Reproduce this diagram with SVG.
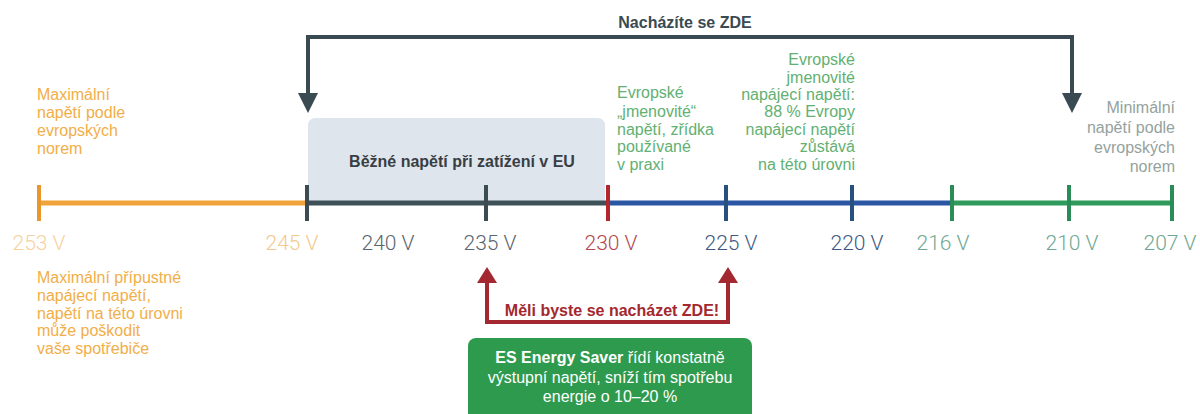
<svg xmlns="http://www.w3.org/2000/svg" width="1200" height="414" viewBox="0 0 1200 414">
<style>
.t{font-family:"Liberation Sans",Arial,sans-serif;font-size:16px}
.b{font-weight:bold}
.lbl{font-family:Roboto,"Liberation Sans",sans-serif;font-weight:300;font-size:21px;text-anchor:middle}
.tick{stroke-width:4;fill:none}
.seg{stroke-width:5;fill:none}
.or{fill:#f2ae48}
.gr{fill:#62b072}
.gy{fill:#94a29d}
</style>
<defs>
<marker id="ah" viewBox="0 0 20 20" markerWidth="20" markerHeight="20" refX="0" refY="10" orient="auto-start-reverse" markerUnits="userSpaceOnUse">
<path d="M0,0 L20,10 L0,20 z" fill="#3a4a52"/>
</marker>
<marker id="ahr" viewBox="0 0 16 20" markerWidth="16" markerHeight="20" refX="0" refY="10" orient="auto-start-reverse" markerUnits="userSpaceOnUse">
<path d="M0,0 L16,10 L0,20 z" fill="#a3282f"/>
</marker>
</defs>
<rect width="1200" height="414" fill="#ffffff"/>

<g id="typical-box">
<path d="M308,203 V126 Q308,118 316,118 H597 Q605,118 605,126 V203 z" fill="#dfe5ec"/>
<text class="t b" x="462" y="167" text-anchor="middle" fill="#383e44">Běžné napětí při zatížení v EU</text>
</g>

<g id="axis">
<line class="seg" x1="39" y1="203" x2="307" y2="203" stroke="#f0a43a"/>
<line class="seg" x1="307" y1="203" x2="608" y2="203" stroke="#3f5158"/>
<line class="seg" x1="608" y1="203" x2="952" y2="203" stroke="#2a56a3"/>
<line class="seg" x1="952" y1="203" x2="1172" y2="203" stroke="#2e9a5c"/>
<line class="tick" x1="39" y1="185" x2="39" y2="221" stroke="#e9962b"/>
<line class="tick" x1="307" y1="185" x2="307" y2="221" stroke="#3c4b52"/>
<line class="tick" x1="486" y1="185" x2="486" y2="221" stroke="#3c4b52"/>
<line class="tick" x1="608" y1="185" x2="608" y2="221" stroke="#b3262e"/>
<line class="tick" x1="726" y1="185" x2="726" y2="221" stroke="#26507e"/>
<line class="tick" x1="852" y1="185" x2="852" y2="221" stroke="#26507e"/>
<line class="tick" x1="952" y1="185" x2="952" y2="221" stroke="#2a8c56"/>
<line class="tick" x1="1069" y1="185" x2="1069" y2="221" stroke="#2a8c56"/>
<line class="tick" x1="1172" y1="185" x2="1172" y2="221" stroke="#2a8c56"/>
</g>

<g id="tick-labels">
<text class="lbl" x="39" y="250" fill="#f6d29e">253 V</text>
<text class="lbl" x="292" y="250" fill="#f3c98f">245 V</text>
<text class="lbl" x="388" y="250" fill="#5a6670">240 V</text>
<text class="lbl" x="490" y="250" fill="#5a6670">235 V</text>
<text class="lbl" x="611" y="250" fill="#b5474e">230 V</text>
<text class="lbl" x="731" y="250" fill="#3f5a82">225 V</text>
<text class="lbl" x="857" y="250" fill="#3f5a82">220 V</text>
<text class="lbl" x="943" y="250" fill="#6fa892">216 V</text>
<text class="lbl" x="1072" y="250" fill="#6fa892">210 V</text>
<text class="lbl" x="1170" y="250" fill="#6fa892">207 V</text>
</g>

<g id="max-norm">
<text class="t or" x="37" y="100">Maximální</text>
<text class="t or" x="37" y="118">napětí podle</text>
<text class="t or" x="37" y="136">evropských</text>
<text class="t or" x="37" y="154">norem</text>
</g>

<g id="max-allowed">
<text class="t or" x="37" y="283">Maximální přípustné</text>
<text class="t or" x="37" y="301">napájecí napětí,</text>
<text class="t or" x="37" y="319">napětí na této úrovni</text>
<text class="t or" x="37" y="336">může poškodit</text>
<text class="t or" x="37" y="354">vaše spotřebiče</text>
</g>

<g id="nominal-old">
<text class="t gr" x="617" y="98">Evropské</text>
<text class="t gr" x="617" y="117">„jmenovité“</text>
<text class="t gr" x="617" y="135">napětí, zřídka</text>
<text class="t gr" x="617" y="152">používané</text>
<text class="t gr" x="617" y="170">v praxi</text>
</g>

<g id="nominal-eu">
<text class="t gr" x="855" y="65" text-anchor="end">Evropské</text>
<text class="t gr" x="855" y="83" text-anchor="end">jmenovité</text>
<text class="t gr" x="855" y="100" text-anchor="end">napájecí napětí:</text>
<text class="t gr" x="855" y="117" text-anchor="end">88 % Evropy</text>
<text class="t gr" x="855" y="135" text-anchor="end">napájecí napětí</text>
<text class="t gr" x="855" y="152" text-anchor="end">zůstává</text>
<text class="t gr" x="855" y="170" text-anchor="end">na této úrovni</text>
</g>

<g id="min-norm">
<text class="t gy" x="1175" y="113" text-anchor="end" font-size="14">Minimální</text>
<text class="t gy" x="1175" y="133" text-anchor="end" font-size="14">napětí podle</text>
<text class="t gy" x="1175" y="153" text-anchor="end" font-size="14">evropských</text>
<text class="t gy" x="1175" y="172" text-anchor="end" font-size="14">norem</text>
</g>

<g id="saver-box">
<rect x="468" y="338" width="284" height="90" rx="8" fill="#2e9a4e"/>
<text class="t" x="610" y="363" text-anchor="middle" fill="#ffffff"><tspan class="b">ES Energy Saver</tspan> řídí konstatně</text>
<text class="t" x="610" y="383" text-anchor="middle" fill="#ffffff">výstupní napětí, sníží tím spotřebu</text>
<text class="t" x="610" y="402" text-anchor="middle" fill="#ffffff">energie o 10–20 %</text>
</g>

<g id="connectors">
<path d="M308,93 V37 H1072 V93" fill="none" stroke="#3a4a52" stroke-width="4" marker-start="url(#ah)" marker-end="url(#ah)"/>
<text class="t b" x="685" y="28" text-anchor="middle" fill="#3a4a52">Nacházíte se ZDE</text>
<path d="M487,283 V322 H728 V283" fill="none" stroke="#a3282f" stroke-width="4" marker-start="url(#ahr)" marker-end="url(#ahr)"/>
<text class="t b" x="612" y="316" text-anchor="middle" fill="#a3282f">Měli byste se nacházet ZDE!</text>
</g>
</svg>
